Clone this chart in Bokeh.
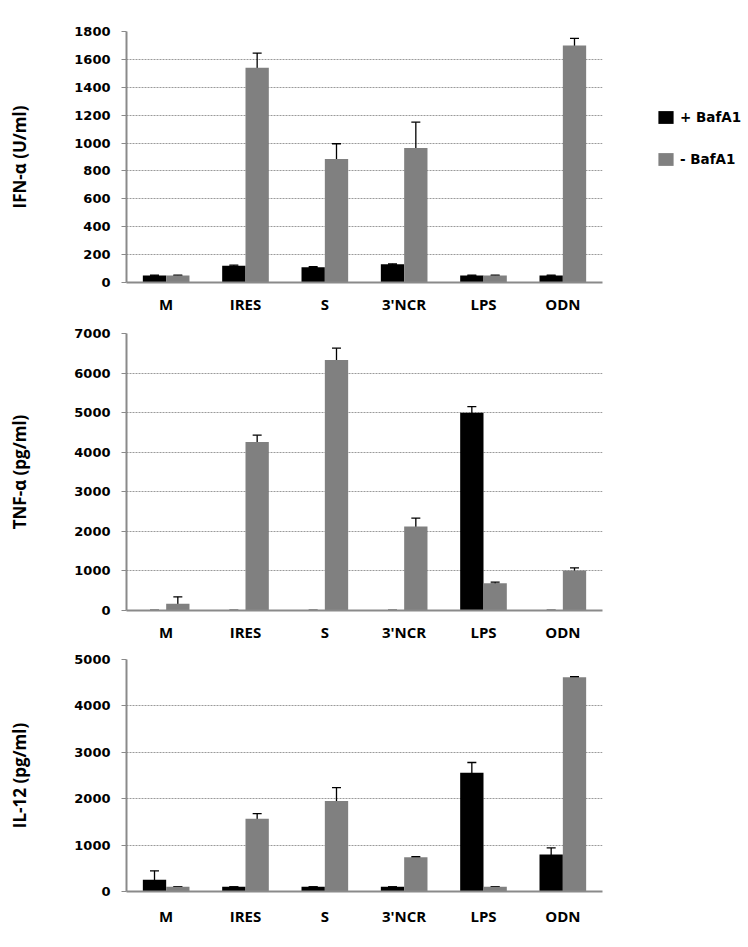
from bokeh.plotting import figure
from bokeh.models import (ColumnDataSource, FactorRange, Range1d, Whisker, TeeHead,
                          SingleIntervalTicker, Legend, LegendItem)
from bokeh.transform import dodge
from bokeh.layouts import column
from bokeh.embed import file_html
from bokeh.resources import INLINE

cats = ["M", "IRES", "S", "3'NCR", "LPS", "ODN"]

ifn_plus = [50, 120, 110, 130, 50, 50]
ifn_plus_err = [3, 4, 4, 4, 3, 3]
ifn_minus = [50, 1540, 885, 965, 50, 1700]
ifn_minus_err = [3, 105, 110, 185, 3, 50]

tnf_plus = [5, 5, 5, 5, 5000, 5]
tnf_plus_err = [0, 0, 0, 0, 150, 0]
tnf_minus = [170, 4260, 6330, 2120, 690, 1010]
tnf_minus_err = [175, 170, 300, 215, 25, 65]

il12_plus = [255, 100, 100, 100, 2560, 800]
il12_plus_err = [190, 0, 0, 0, 220, 140]
il12_minus = [100, 1570, 1950, 740, 100, 4620]
il12_minus_err = [5, 110, 290, 10, 5, 10]

series_labels = ["+ BafA1", "- BafA1"]

BLACK = "#000000"
GRAY = "#808080"
AXIS = "#8a8a8a"
BW = 0.294
OFF = BW / 2


def panel(plus, plus_err, minus, minus_err, ymax, step, ylabel,
          top, fh, bottom, xstand):
    src = ColumnDataSource(dict(
        cat=cats, plus=plus, minus=minus,
        pu=[v + e for v, e in zip(plus, plus_err)],
        pl=[v - e for v, e in zip(plus, plus_err)],
        mu=[v + e for v, e in zip(minus, minus_err)],
        ml=[v - e for v, e in zip(minus, minus_err)],
    ))
    p = figure(x_range=FactorRange(*cats, range_padding=0),
               y_range=Range1d(0, ymax),
               frame_width=476, frame_height=fh,
               min_border_left=126, min_border_right=146,
               min_border_top=top, min_border_bottom=bottom,
               output_backend="svg", toolbar_location=None)
    r1 = p.vbar(x=dodge("cat", -OFF, range=p.x_range), top="plus", width=BW,
                source=src, fill_color=BLACK, line_color=None)
    r2 = p.vbar(x=dodge("cat", OFF, range=p.x_range), top="minus", width=BW,
                source=src, fill_color=GRAY, line_color=None)
    for base, up, lo in [(dodge("cat", -OFF, range=p.x_range), "pu", "pl"),
                         (dodge("cat", OFF, range=p.x_range), "mu", "ml")]:
        w = Whisker(source=src, base=base, upper=up, lower=lo,
                    line_color="black", line_width=1.3,
                    upper_head=TeeHead(size=9, line_color="black", line_width=1.3),
                    lower_head=TeeHead(size=9, line_color="black", line_width=1.3))
        p.add_layout(w)

    p.outline_line_color = None
    p.xgrid.grid_line_color = None
    p.ygrid.grid_line_color = "#9a9a9a"
    p.ygrid.grid_line_dash = "2 1"
    p.ygrid.grid_line_width = 1
    p.yaxis.ticker = SingleIntervalTicker(interval=step)

    p.yaxis.axis_line_color = AXIS
    p.yaxis.axis_line_width = 2
    p.yaxis.major_tick_line_color = AXIS
    p.yaxis.major_tick_out = 5
    p.yaxis.major_tick_in = 0
    p.yaxis.minor_tick_line_color = None
    p.yaxis.major_label_standoff = 11
    p.yaxis.major_label_text_font = "DejaVu Sans"
    p.yaxis.major_label_text_font_style = "bold"
    p.yaxis.major_label_text_font_size = "13px"
    p.yaxis.major_label_text_color = "black"
    p.yaxis.axis_label = ylabel
    p.yaxis.axis_label_text_font = "Open Sans"
    p.yaxis.axis_label_text_font_style = "bold"
    p.yaxis.axis_label_text_font_size = "17px"
    p.yaxis.axis_label_text_color = "black"
    p.yaxis.axis_label_standoff = 40

    p.xaxis.axis_line_color = AXIS
    p.xaxis.axis_line_width = 2
    p.xaxis.major_tick_line_color = None
    p.xaxis.minor_tick_line_color = None
    p.xaxis.major_label_standoff = xstand
    p.xaxis.major_label_text_font = "Open Sans"
    p.xaxis.major_label_text_font_style = "bold"
    p.xaxis.major_label_text_font_size = "15px"
    p.xaxis.major_label_text_color = "black"
    return p, r1, r2


p1, a1, b1 = panel(ifn_plus, ifn_plus_err, ifn_minus, ifn_minus_err, 1800, 200,
                   "IFN-α (U/ml)", 31, 251, 33, 5)
p2, _, _ = panel(tnf_plus, tnf_plus_err, tnf_minus, tnf_minus_err, 7000, 1000,
                 "TNF-α (pg/ml)", 17, 277, 34, 5)
p3, _, _ = panel(il12_plus, il12_plus_err, il12_minus, il12_minus_err, 5000, 1000,
                 "IL-12 (pg/ml)", 15, 232, 40, 8)

legend = Legend(items=[LegendItem(label=series_labels[0], renderers=[a1]),
                       LegendItem(label=series_labels[1], renderers=[b1])],
                location=(54, 115), orientation="vertical",
                glyph_width=19, glyph_height=16, label_height=16,
                label_standoff=5, spacing=26, padding=0, margin=0,
                border_line_color=None, background_fill_alpha=0,
                label_text_font="DejaVu Sans", label_text_font_style="bold",
                label_text_font_size="13.5px", label_text_color="black")
p1.add_layout(legend, "right")

layout = column(p1, p2, p3, spacing=0)
open("out.html", "w").write(file_html(layout, INLINE))
